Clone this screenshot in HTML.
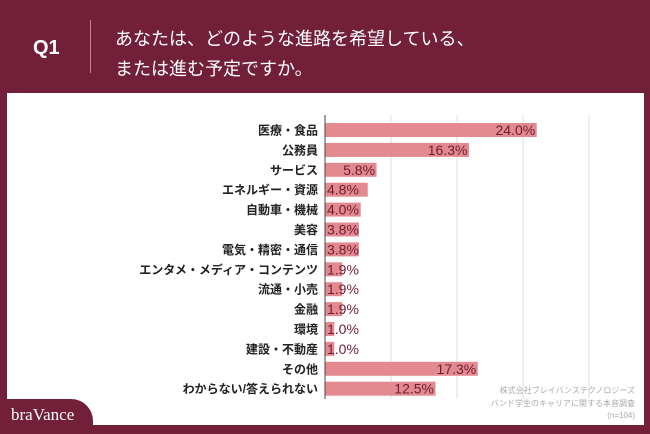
<!DOCTYPE html>
<html><head><meta charset="utf-8"><style>
body{margin:0;width:650px;height:434px;overflow:hidden;background:#72203a;font-family:"Liberation Sans","Noto Sans CJK JP",sans-serif;}
#frame{position:relative;width:650px;height:434px;}
.abs{position:absolute;}
</style></head><body>
<div id="frame">
<div class="abs" style="left:33px;top:37px;color:#fff;font-size:20px;font-weight:bold;">Q1</div>
<div class="abs" style="left:90px;top:20px;width:1px;height:53px;background:#b98a96;"></div>
<div class="abs" style="left:115px;top:24px;color:#fff;font-size:18px;line-height:30px;">あなたは、どのような進路を希望している、<br>または進む予定ですか。</div>
<div class="abs" style="left:7px;top:93px;width:637px;height:332px;background:#fff;"></div>
<svg class="abs" style="left:0;top:0" width="650" height="434" id="chart"></svg>
<div class="abs" style="left:0;top:399px;width:93px;height:35px;background:#72203a;border-top-right-radius:22px;"></div>
<div class="abs" style="left:11px;top:405px;color:#fff;font-family:'Liberation Serif',serif;font-size:17px;">braVance</div>
<div class="abs" style="left:460px;top:385px;width:175px;text-align:right;color:#aaa;font-size:8px;line-height:12.5px;">株式会社ブレイバンステクノロジーズ<br>バンド学生のキャリアに関する本音調査<br>(n=104)</div>
</div>
<script>
const categories=["医療・食品","公務員","サービス","エネルギー・資源","自動車・機械","美容","電気・精密・通信","エンタメ・メディア・コンテンツ","流通・小売","金融","環境","建設・不動産","その他","わからない/答えられない"];
const values=[24.0,16.3,5.8,4.8,4.0,3.8,3.8,1.9,1.9,1.9,1.0,1.0,17.3,12.5];
const gridTicks=[0,7.5,15,22.5,30];
const svg=document.getElementById('chart');const NS="http://www.w3.org/2000/svg";
const x0=325,pxPer=8.8,y0=130,pitch=19.9,bh=14;
const xs=v=>x0+v*pxPer, ys=i=>y0+i*pitch;
function mk(t,a){const e=document.createElementNS(NS,t);for(const k in a)e.setAttribute(k,a[k]);svg.appendChild(e);return e;}
gridTicks.forEach((t,i)=>{const l=mk('line',{x1:xs(t),x2:xs(t),y1:115,y2:399,stroke:i==0?'#444':'#ddd','stroke-width':1});

});
categories.forEach((c,i)=>{
const y=ys(i);
const r=mk('rect',{x:x0+0.5,y:y-bh/2,width:values[i]*pxPer,height:bh,fill:'#e38a90'});


const lab=mk('text',{x:318,y:y+4.5,'text-anchor':'end','font-size':12,'font-weight':'bold',fill:'#222'});lab.textContent=c;


const v=mk('text',{x:xs(values[i])-1,y:y+5,'text-anchor':values[i]<5?'start':'end','font-size':14,fill:'#6e1d33'});
if(values[i]<5)v.setAttribute('x',x0+2);
v.textContent=values[i].toFixed(1)+'%';


});
</script>
</body></html>
